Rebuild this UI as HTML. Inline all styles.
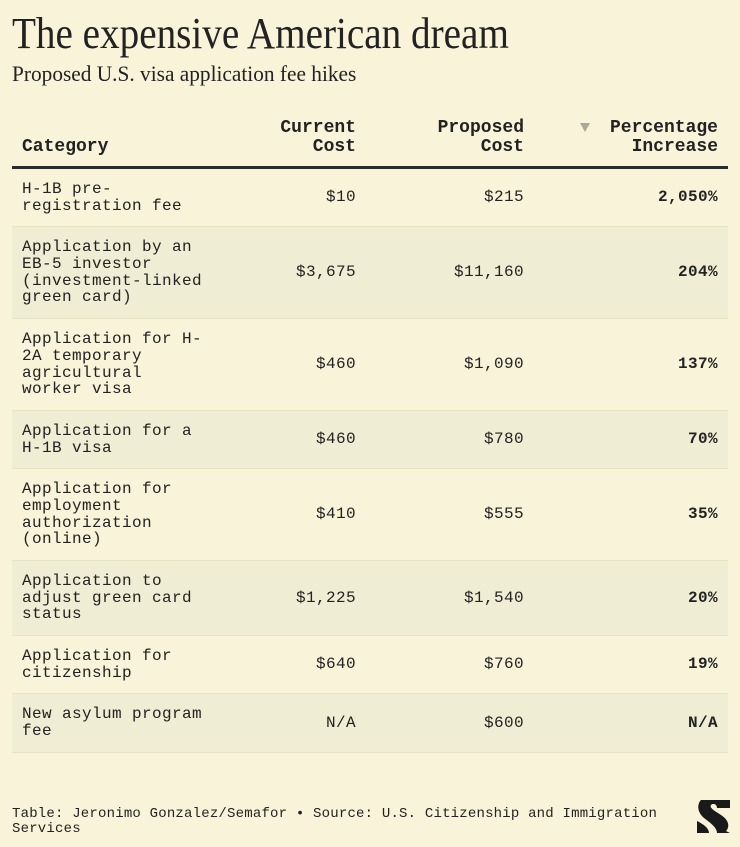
<!DOCTYPE html>
<html><head><meta charset="utf-8"><style>
body{margin:0;width:740px;height:847px;background:#f8f3d9;position:relative;overflow:hidden;color:#222;}
.t{position:absolute;left:12px;top:8px;font-family:"Liberation Serif",serif;font-size:44px;transform:scaleX(0.89);transform-origin:left top;white-space:nowrap;color:#222;}
.s{position:absolute;left:12px;top:61px;font-family:"Liberation Serif",serif;font-size:22px;transform:scaleX(0.97);transform-origin:left top;white-space:nowrap;}
.m{font-family:"Liberation Mono",monospace;font-size:16px;letter-spacing:0.4px;line-height:16.7px;}
.h{position:absolute;font-family:"Liberation Mono",monospace;font-weight:bold;font-size:18px;line-height:19px;text-align:right;}
.row{position:absolute;left:12px;width:716px;border-bottom:1px solid #e6e2c4;}
.row.sh{background:#efedd4;}
.c{position:absolute;top:0;bottom:0;display:flex;align-items:center;}
.c1{left:10px;width:200px;}
.c2{right:372px;justify-content:flex-end;}
.c3{right:204px;justify-content:flex-end;}
.c4{right:10px;justify-content:flex-end;font-weight:bold;}
.f{position:absolute;left:12px;top:807px;font-family:"Liberation Mono",monospace;font-size:14px;letter-spacing:0.2px;line-height:15px;width:680px;}
</style></head><body>
<div class="t">The expensive American dream</div>
<div class="s">Proposed U.S. visa application fee hikes</div>
<div class="h" style="left:22px;top:138px;text-align:left">Category</div>
<div class="h" style="right:384px;top:119px">Current<br>Cost</div>
<div class="h" style="right:216px;top:119px">Proposed<br>Cost</div>
<div class="h" style="right:22px;top:119px">Percentage<br>Increase</div>
<div style="position:absolute;left:580px;top:123px;width:0;height:0;border-left:5px solid transparent;border-right:5px solid transparent;border-top:9px solid #aaa89a"></div>
<div style="position:absolute;left:12px;top:166px;width:716px;height:3px;background:#2a2d2c"></div>

<div class="row m" style="top:169px;height:57px"><div class="c c1">H-1B pre-<br>registration fee</div><div class="c c2">$10</div><div class="c c3">$215</div><div class="c c4">2,050%</div></div>
<div class="row m sh" style="top:227px;height:91px"><div class="c c1">Application by an<br>EB-5 investor<br>(investment-linked<br>green card)</div><div class="c c2">$3,675</div><div class="c c3">$11,160</div><div class="c c4">204%</div></div>
<div class="row m" style="top:319px;height:91px"><div class="c c1">Application for H-<br>2A temporary<br>agricultural<br>worker visa</div><div class="c c2">$460</div><div class="c c3">$1,090</div><div class="c c4">137%</div></div>
<div class="row m sh" style="top:411px;height:57px"><div class="c c1">Application for a<br>H-1B visa</div><div class="c c2">$460</div><div class="c c3">$780</div><div class="c c4">70%</div></div>
<div class="row m" style="top:469px;height:91px"><div class="c c1">Application for<br>employment<br>authorization<br>(online)</div><div class="c c2">$410</div><div class="c c3">$555</div><div class="c c4">35%</div></div>
<div class="row m sh" style="top:561px;height:74px"><div class="c c1">Application to<br>adjust green card<br>status</div><div class="c c2">$1,225</div><div class="c c3">$1,540</div><div class="c c4">20%</div></div>
<div class="row m" style="top:636px;height:57px"><div class="c c1">Application for<br>citizenship</div><div class="c c2">$640</div><div class="c c3">$760</div><div class="c c4">19%</div></div>
<div class="row m sh" style="top:694px;height:58px"><div class="c c1">New asylum program<br>fee</div><div class="c c2">N/A</div><div class="c c3">$600</div><div class="c c4">N/A</div></div>

<div class="f">Table: Jeronimo Gonzalez/Semafor • Source: U.S. Citizenship and Immigration Services</div>
<svg style="position:absolute;left:697px;top:800px" width="34" height="33" viewBox="0 0 34 33">
<path d="M4 0H33V8H20C20 4 16 3 14 5C12 8 18 11 24 15C32 20 33 27 29 31L33 33H20C20 27 12 22 7 18C0 12 0 4 4 0Z" fill="#1a1a1a"/>
<path d="M0 21C6 24 12 28 12 33H0Z" fill="#1a1a1a"/>
</svg>
</body></html>
